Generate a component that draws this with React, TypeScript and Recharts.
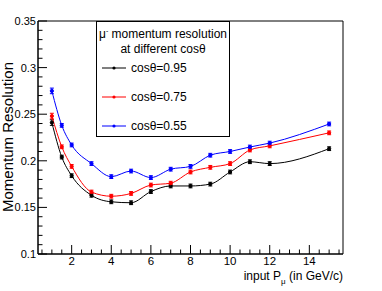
import React from 'react';
import { LineChart, Line, XAxis, YAxis, ReferenceArea, ErrorBar } from 'recharts';

// input muon momentum (GeV/c)
const pMu = [1, 1.5, 2, 3, 4, 5, 6, 7, 8, 9, 10, 11, 12, 15];

// momentum resolution per cos(theta)
const res095 = [0.241, 0.204, 0.184, 0.163, 0.156, 0.155, 0.167, 0.173, 0.173, 0.175, 0.188, 0.199, 0.197, 0.213];
const res075 = [0.248, 0.215, 0.194, 0.1665, 0.162, 0.165, 0.174, 0.176, 0.188, 0.193, 0.197, 0.2116, 0.216, 0.23];
const res055 = [0.275, 0.238, 0.217, 0.197, 0.183, 0.189, 0.182, 0.191, 0.194, 0.206, 0.21, 0.2148, 0.219, 0.2395];

const err095 = [0.003, 0.002, 0.002, 0.002, 0.002, 0.002, 0.002, 0.002, 0.002, 0.002, 0.002, 0.002, 0.002, 0.002];
const err075 = [0.003, 0.002, 0.002, 0.002, 0.002, 0.002, 0.002, 0.002, 0.002, 0.002, 0.002, 0.002, 0.002, 0.002];
const err055 = [0.003, 0.002, 0.002, 0.002, 0.002, 0.002, 0.002, 0.002, 0.002, 0.002, 0.002, 0.002, 0.002, 0.002];

const xTicks = [0.5, 1, 1.5, 2, 2.5, 3, 3.5, 4, 4.5, 5, 5.5, 6, 6.5, 7, 7.5, 8, 8.5, 9, 9.5, 10, 10.5, 11, 11.5, 12, 12.5, 13, 13.5, 14, 14.5, 15, 15.5];
const xLabels = [2, 4, 6, 8, 10, 12, 14];
const yTicks = [0.1, 0.11, 0.12, 0.13, 0.14, 0.15, 0.16, 0.17, 0.18, 0.19, 0.2, 0.21, 0.22, 0.23, 0.24, 0.25, 0.26, 0.27, 0.28, 0.29, 0.3, 0.31, 0.32, 0.33, 0.34, 0.35];
const yLabels = [0.1, 0.15, 0.2, 0.25, 0.3, 0.35];

const series = [
  { key: 'c95', err: 'e95', name: 'cosθ=0.95', color: '#000000' },
  { key: 'c75', err: 'e75', name: 'cosθ=0.75', color: '#ff0000' },
  { key: 'c55', err: 'e55', name: 'cosθ=0.55', color: '#0000ff' },
];

const data = pMu.map((p, i) => ({
  p,
  c95: res095[i],
  c75: res075[i],
  c55: res055[i],
  e95: err095[i],
  e75: err075[i],
  e55: err055[i],
}));

const FONT = '"Liberation Sans", Arial, sans-serif';

const YTick = (props: any) => {
  const { x, y, payload } = props;
  const v = payload.value;
  const major = yLabels.some((l) => Math.abs(l - v) < 1e-6);
  const ax = x + 2;
  return (
    <g>
      <line x1={ax} x2={ax + (major ? 9 : 4.5)} y1={y} y2={y} stroke="#000" strokeWidth={1} />
      {major && (
        <text x={x} y={y + 4} textAnchor="end" fontSize={11} fontFamily={FONT} fill="#000">
          {String(Number(v.toFixed(2)))}
        </text>
      )}
    </g>
  );
};

const XTick = (props: any) => {
  const { x, y, payload } = props;
  const v = payload.value;
  const major = xLabels.includes(v);
  return (
    <g>
      <line x1={x} x2={x} y1={y} y2={y - (major ? 9 : 4.5)} stroke="#000" strokeWidth={1} />
      {major && (
        <text x={x} y={y + 11} textAnchor="middle" fontSize={11.5} fontFamily={FONT} fill="#000">
          {v}
        </text>
      )}
    </g>
  );
};

const LegendBox = () => (
  <div
    style={{
      position: 'absolute',
      left: 96,
      top: 21,
      width: 134,
      height: 116,
      border: '1px solid #000',
      background: '#fff',
      fontFamily: FONT,
      fontSize: 12,
      color: '#000',
      boxSizing: 'border-box',
    }}
  >
    <div style={{ position: 'absolute', top: 1, left: 0, width: '100%', textAlign: 'center', lineHeight: '16px' }}>
      μ<sup style={{ fontSize: 7 }}>-</sup> momentum resolution
    </div>
    <div style={{ position: 'absolute', top: 19, left: 0, width: '100%', textAlign: 'center', lineHeight: '16px' }}>
      at different cosθ
    </div>
    {series.map((s, i) => (
      <div key={s.key} style={{ position: 'absolute', top: 38 + i * 29, left: 5, display: 'flex', alignItems: 'center', lineHeight: '16px' }}>
        <svg width={24} height={10} style={{ marginRight: 5 }}>
          <line x1={0} x2={24} y1={5} y2={5} stroke={s.color} strokeWidth={1} />
          <circle cx={12} cy={5} r={1.6} fill={s.color} />
        </svg>
        <span>{s.name}</span>
      </div>
    ))}
  </div>
);

export default function App() {
  return (
    <div style={{ position: 'absolute', left: 0, top: 0, width: 382, height: 291, background: '#fff' }}>
      <LineChart width={382} height={291} data={data} margin={{ top: 21, right: 39, left: 0, bottom: 0 }}>
        <XAxis
          dataKey="p"
          type="number"
          domain={[0.3, 15.7]}
          ticks={xTicks}
          interval={0}
          tick={<XTick />}
          tickLine={false}
          tickSize={0}
          tickMargin={0}
          axisLine={{ stroke: '#000' }}
          height={37}
          allowDataOverflow
        />
        <YAxis
          type="number"
          domain={[0.1, 0.35]}
          ticks={yTicks}
          interval={0}
          tick={<YTick />}
          tickLine={false}
          tickSize={0}
          tickMargin={2}
          axisLine={{ stroke: '#000' }}
          width={38}
          allowDataOverflow
          label={{
            content: () => (
              <text
                transform="translate(13,137) rotate(-90)"
                textAnchor="middle"
                fontSize={15}
                fontFamily={FONT}
                fill="#000"
              >
                Momentum Resolution
              </text>
            ),
          }}
        />
        <ReferenceArea x1={0.3} x2={15.7} y1={0.1} y2={0.35} fill="none" stroke="#000" strokeWidth={1} ifOverflow="visible" />
        {series.map((s) => (
          <Line
            key={s.key}
            type="monotone"
            dataKey={s.key}
            stroke={s.color}
            strokeWidth={1}
            dot={{ r: 1.6, fill: s.color, stroke: s.color }}
            activeDot={false}
            isAnimationActive={false}
          >
            <ErrorBar dataKey={s.err} direction="y" width={2} stroke={s.color} strokeWidth={1} />
          </Line>
        ))}
      </LineChart>
      <LegendBox />
      <div
        style={{
          position: 'absolute',
          right: 39,
          top: 270,
          fontFamily: FONT,
          fontSize: 12,
          color: '#000',
          whiteSpace: 'nowrap',
          lineHeight: '13px',
        }}
      >
        input P<span style={{ fontSize: 8, position: 'relative', top: 4 }}>μ</span> (in GeV/c)
      </div>
    </div>
  );
}
